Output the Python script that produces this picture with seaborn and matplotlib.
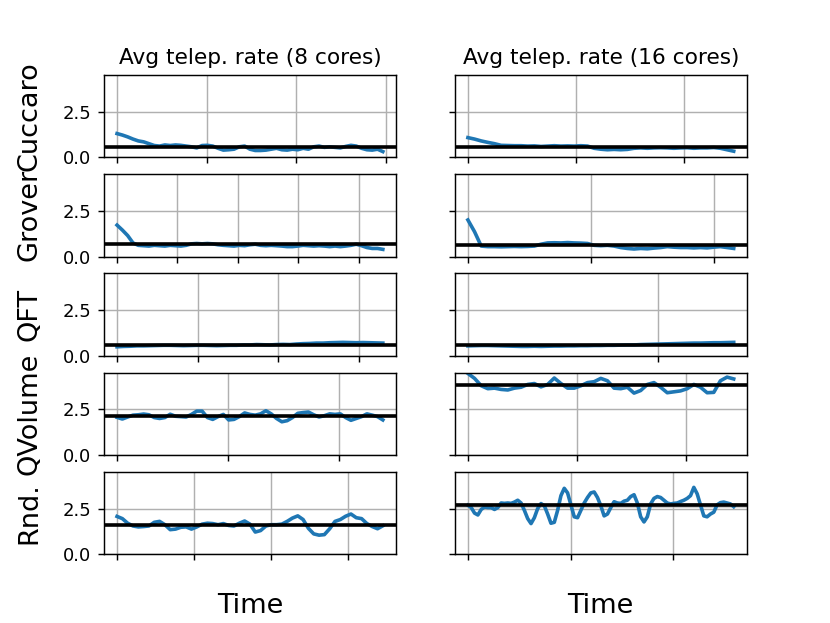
import numpy as np
import pandas as pd
import matplotlib
matplotlib.use("Agg")
import matplotlib.pyplot as plt
import seaborn as sns
from matplotlib.ticker import MultipleLocator

circuits = ["Cuccaro", "Grover", "QFT", "QVolume", "Rnd."]
core_counts = [8, 16]

# avg teleportation rate over time
cuccaro_8 = [1.30, 1.22, 1.12, 1.00, 0.90, 0.85, 0.75, 0.65, 0.62, 0.68,
             0.65, 0.68, 0.66, 0.62, 0.58, 0.52, 0.65, 0.66, 0.62, 0.50,
             0.40, 0.42, 0.45, 0.58, 0.62, 0.45, 0.38, 0.38, 0.40, 0.45,
             0.50, 0.42, 0.40, 0.45, 0.42, 0.50, 0.45, 0.58, 0.62, 0.55,
             0.58, 0.55, 0.52, 0.60, 0.66, 0.62, 0.50, 0.42, 0.40, 0.45, 0.32]
grover_8 = [1.72, 1.45, 1.15, 0.75, 0.62, 0.60, 0.58, 0.62, 0.60, 0.58,
            0.62, 0.60, 0.58, 0.62, 0.70, 0.72, 0.70, 0.72, 0.70, 0.65,
            0.62, 0.60, 0.58, 0.62, 0.60, 0.65, 0.68, 0.62, 0.60, 0.62,
            0.60, 0.58, 0.55, 0.55, 0.58, 0.62, 0.60, 0.58, 0.60, 0.58,
            0.55, 0.58, 0.55, 0.58, 0.62, 0.68, 0.60, 0.50, 0.45, 0.45, 0.40]
qft_8 = [0.50, 0.52, 0.53, 0.55, 0.55, 0.56, 0.57, 0.58, 0.58, 0.57,
         0.56, 0.57, 0.58, 0.58, 0.57, 0.56, 0.57, 0.58, 0.58, 0.60,
         0.60, 0.62, 0.61, 0.60, 0.62, 0.63, 0.62, 0.65, 0.67, 0.68,
         0.70, 0.70, 0.72, 0.73, 0.74, 0.73, 0.72, 0.73, 0.72, 0.71, 0.70]
qvolume_8 = [2.06, 1.97, 2.08, 2.18, 2.20, 2.24, 2.20, 2.05, 2.00, 2.05,
             2.23, 2.12, 2.10, 2.08, 2.22, 2.40, 2.40, 2.05, 1.95, 2.10,
             2.22, 1.92, 1.95, 2.10, 2.30, 2.22, 2.18, 2.25, 2.42, 2.25,
             2.00, 1.82, 1.88, 2.05, 2.28, 2.32, 2.35, 2.20, 2.08, 2.15,
             2.25, 2.22, 2.25, 2.05, 1.90, 2.00, 2.10, 2.25, 2.18, 2.10, 1.92]
rnd_8 = [2.07, 1.95, 1.70, 1.55, 1.50, 1.52, 1.55, 1.75, 1.80, 1.62,
         1.35, 1.38, 1.48, 1.50, 1.38, 1.50, 1.65, 1.70, 1.68, 1.62,
         1.68, 1.58, 1.55, 1.70, 1.82, 1.65, 1.22, 1.30, 1.55, 1.62,
         1.62, 1.65, 1.80, 1.98, 2.10, 1.90, 1.42, 1.12, 1.05, 1.08,
         1.40, 1.80, 1.90, 2.08, 2.20, 2.00, 1.95, 1.68, 1.52, 1.40, 1.56]

cuccaro_16 = [1.08, 1.00, 0.90, 0.82, 0.75, 0.66, 0.65, 0.64, 0.64, 0.62,
              0.63, 0.60, 0.62, 0.64, 0.62, 0.63, 0.62, 0.64, 0.62, 0.50,
              0.45, 0.42, 0.44, 0.42, 0.44, 0.50, 0.52, 0.50, 0.52, 0.53,
              0.52, 0.50, 0.52, 0.53, 0.50, 0.52, 0.52, 0.54, 0.50, 0.42, 0.34]
grover_16 = [2.00, 1.36, 0.58, 0.55, 0.55, 0.54, 0.55, 0.56, 0.55, 0.56,
             0.58, 0.68, 0.75, 0.76, 0.75, 0.77, 0.75, 0.74, 0.72, 0.62,
             0.60, 0.62, 0.58, 0.50, 0.45, 0.42, 0.45, 0.43, 0.47, 0.50,
             0.55, 0.52, 0.50, 0.50, 0.48, 0.50, 0.48, 0.52, 0.55, 0.50, 0.45]
qft_16 = [0.55, 0.56, 0.57, 0.57, 0.56, 0.55, 0.54, 0.53, 0.52, 0.52,
          0.53, 0.52, 0.53, 0.54, 0.54, 0.55, 0.55, 0.56, 0.56, 0.57,
          0.57, 0.58, 0.58, 0.59, 0.60, 0.60, 0.62, 0.63, 0.64, 0.65,
          0.66, 0.67, 0.68, 0.69, 0.70, 0.70, 0.71, 0.72, 0.72, 0.73, 0.74]
qvolume_16 = [4.45, 4.18, 3.78, 3.62, 3.65, 3.58, 3.55, 3.65, 3.70, 3.85,
              3.90, 3.72, 3.85, 4.20, 3.90, 3.65, 3.65, 3.78, 3.95, 4.00,
              4.18, 4.05, 3.65, 3.62, 3.70, 3.38, 3.52, 3.85, 3.95, 3.70,
              3.40, 3.45, 3.50, 3.62, 3.85, 3.70, 3.40, 3.42, 4.05, 4.25, 4.15]
rnd_16 = [2.68, 2.55, 2.25, 2.15, 2.45, 2.58, 2.55, 2.55, 2.45, 2.55,
          2.80, 2.78, 2.80, 2.78, 2.85, 2.95, 2.80, 2.40, 1.95, 1.68,
          2.00, 2.50, 2.77, 2.65, 2.20, 1.70, 1.75, 2.40, 3.20, 3.60,
          3.35, 2.70, 2.05, 2.00, 2.40, 2.80, 3.10, 3.35, 3.40, 3.10,
          2.65, 2.10, 2.20, 2.55, 2.87, 2.80, 2.78, 2.90, 2.95, 3.15,
          3.25, 2.80, 2.05, 1.77, 2.05, 2.75, 3.05, 3.15, 3.10, 2.95,
          2.80, 2.75, 2.78, 2.80, 2.88, 2.95, 3.05, 3.20, 3.65, 3.30,
          2.70, 2.10, 2.05, 2.20, 2.30, 2.70, 2.82, 2.85, 2.80, 2.75, 2.60]

# overall average (black line) and its band
mean_8 = [0.55, 0.68, 0.60, 2.14, 1.63]
mean_16 = [0.58, 0.64, 0.62, 3.80, 2.67]
band_8 = [0.03, 0.03, 0.02, 0.04, 0.04]
band_16 = [0.03, 0.03, 0.02, 0.05, 0.12]

# run length and tick step on the time axis
span_8 = [297, 220, 330, 240, 346]
span_16 = [246, 216, 140, 244, 259]
tick_8 = [100, 50, 100, 100, 100]
tick_16 = [100, 100, 100, 100, 100]

series = {8: [cuccaro_8, grover_8, qft_8, qvolume_8, rnd_8],
          16: [cuccaro_16, grover_16, qft_16, qvolume_16, rnd_16]}
means = {8: mean_8, 16: mean_16}
bands = {8: band_8, 16: band_16}
spans = {8: span_8, 16: span_16}
ticks = {8: tick_8, 16: tick_16}

fig, axes = plt.subplots(5, 2, figsize=(830 / 130, 623 / 130), sharey=True)

for j, c in enumerate(core_counts):
    for i, name in enumerate(circuits):
        ax = axes[i, j]
        vals = series[c][i]
        df = pd.DataFrame({"time": np.linspace(0, spans[c][i], len(vals)),
                           "rate": vals})
        sns.lineplot(data=df, x="time", y="rate", ax=ax, color="#1f77b4", lw=2)
        m = means[c][i]
        b = bands[c][i]
        ax.axhspan(m - b, m + b, color="gray", alpha=0.35, lw=0)
        ax.axhline(m, color="black", lw=2)
        ax.xaxis.set_major_locator(MultipleLocator(ticks[c][i]))
        ax.tick_params(labelbottom=False)
        ax.grid(True)
        ax.set_xlabel("")
        ax.set_ylabel(name if j == 0 else "", fontsize=15, labelpad=11)
        if i == 0:
            ax.set_title(f"Avg telep. rate ({c} cores)")
        if i == 4:
            ax.set_xlabel("Time", fontsize=15, labelpad=18)

axes[0, 0].set_ylim(0, 4.5)
axes[0, 0].set_yticks([0, 2.5])

fig.savefig("out.png", dpi=130)
